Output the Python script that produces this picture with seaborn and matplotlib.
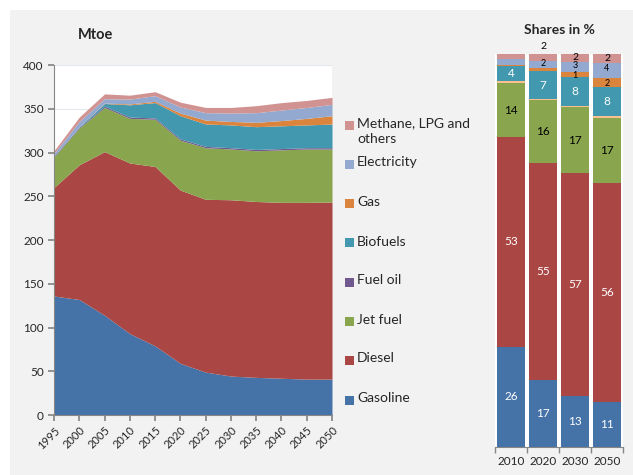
import matplotlib.pyplot as plt
import seaborn as sns
import pandas as pd
from matplotlib.patches import Rectangle

# ---- data: transport energy demand, Mtoe (stacked area) ----
years = [1995, 2000, 2005, 2010, 2015, 2020, 2025, 2030, 2035, 2040, 2045, 2050]
gasoline = [136, 132, 114, 93, 79, 59, 49, 44.5, 43, 42, 41, 41]
diesel = [124, 154, 187, 195, 205, 198, 197.5, 201.5, 201, 201, 202, 202.5]
jet_fuel = [35, 42, 50.5, 51, 54, 57, 59, 58, 58, 60, 61, 60.5]
fuel_oil = [1, 1, 1.5, 1.5, 1.5, 1.5, 1.5, 1.5, 1.5, 1.5, 1.5, 1.5]
biofuels = [0, 0.5, 3, 14, 17.5, 26.5, 25.6, 26, 26, 26, 26, 27]
gas = [0, 0, 0.5, 1, 1.5, 3, 4.4, 4, 5, 6, 7.5, 9.5]
electricity = [3, 6, 5, 5.5, 6.5, 7, 8.5, 9.6, 11, 12, 12.5, 13]
methane = [3, 5, 5.5, 4.5, 4.5, 5.5, 6, 6.4, 8, 8.5, 8, 8]

names = ["Gasoline", "Diesel", "Jet fuel", "Fuel oil", "Biofuels", "Gas",
         "Electricity", "Methane, LPG and\nothers"]
colors = ["#4572a7", "#aa4643", "#89a54e", "#71588f", "#4198af", "#db843d",
          "#93a9cf", "#d19392"]

# ---- data: shares in % (stacked bars) ----
share_years = ["2010", "2020", "2030", "2050"]
share_gasoline = [25.5, 16.9, 12.8, 11.4]
share_diesel = [53.4, 55.3, 56.8, 55.7]
share_jet_fuel = [13.6, 16.0, 16.8, 16.65]
share_fuel_oil = [0.6, 0.4, 0.3, 0.35]
share_biofuels = [3.8, 7.0, 7.5, 7.5]
share_gas = [0.4, 0.85, 1.2, 2.4]
share_electricity = [1.3, 1.7, 2.6, 3.6]
share_methane = [1.4, 1.85, 2.0, 2.4]

lbl_gasoline = ["26", "17", "13", "11"]
lbl_diesel = ["53", "55", "57", "56"]
lbl_jet_fuel = ["14", "16", "17", "17"]
lbl_fuel_oil = ["", "", "", ""]
lbl_biofuels = ["4", "7", "8", "8"]
lbl_gas = ["", "", "1", "2"]
lbl_electricity = ["", "2", "3", "4"]
lbl_methane = ["", "2", "2", "2"]

area_series = [gasoline, diesel, jet_fuel, fuel_oil, biofuels, gas, electricity, methane]
share_series = [share_gasoline, share_diesel, share_jet_fuel, share_fuel_oil,
                share_biofuels, share_gas, share_electricity, share_methane]
share_labels = [lbl_gasoline, lbl_diesel, lbl_jet_fuel, lbl_fuel_oil,
                lbl_biofuels, lbl_gas, lbl_electricity, lbl_methane]
bar_colors = colors.copy()
bar_colors[3] = "#fac090"
label_colors = ["white", "white", "black", "black", "white", "black", "black", "black"]
label_sizes = [8.5, 8.5, 8.5, 8.5, 8.5, 6.5, 6.5, 7.5]
label_nudge = [0, 0, 0, 0, 0, -0.4, 0.4, 0]   # keep the tiny 2030 labels apart

sns.set_theme(style="white")
plt.rcParams["font.family"] = ["Lato", "DejaVu Sans"]

W, H = 633, 475
fig = plt.figure(figsize=(W / 100, H / 100), dpi=100)
fig.patch.set_facecolor("white")
fig.patches.append(Rectangle((10 / W, 0), 1, (H - 10) / H, transform=fig.transFigure,
                             facecolor="#f2f2f2", edgecolor="none", zorder=-10))

axis_grey = "#868686"

# ---- left: stacked area ----
ax = fig.add_axes([54 / W, 1 - 415 / H, (332 - 54) / W, (415 - 65) / H])
ax.set_facecolor("white")
ax.stackplot(years, *area_series, colors=colors, linewidth=0)
ax.set_xlim(1995, 2050)
ax.set_ylim(0, 400)
ax.set_xticks(years)
ax.set_xticklabels([str(y) for y in years], rotation=45, ha="right",
                   rotation_mode="anchor", fontsize=8)
ax.set_yticks(range(0, 401, 50))
ax.tick_params(axis="y", labelsize=8.5, length=4, color=axis_grey, direction="out", left=True)
ax.tick_params(axis="x", length=4, color=axis_grey, direction="out", bottom=True, pad=3)
ax.yaxis.grid(True, color="#e3e7ee", lw=0.8)
ax.set_axisbelow(True)
for s in ["top", "right"]:
    ax.spines[s].set_visible(False)
for s in ["left", "bottom"]:
    ax.spines[s].set_color(axis_grey)
    ax.spines[s].set_linewidth(0.8)
fig.text(78 / W, 1 - 35 / H, "Mtoe", fontsize=10.5, fontweight="bold", va="center")

# legend, drawn top-down in reverse order
leg_y = [125, 164, 203, 243, 282, 321, 360, 400]
for i, (name, col) in enumerate(zip(names[::-1], colors[::-1])):
    y = leg_y[i]
    fig.patches.append(Rectangle((345 / W, 1 - (y + 4.5) / H), 9 / W, 9 / H,
                                 transform=fig.transFigure, facecolor=col, edgecolor="none"))
    fig.text(357 / W, 1 - (y - 7.5) / H, name, fontsize=10, va="top", linespacing=1.35)

# ---- right: shares bars ----
ax2 = fig.add_axes([495 / W, 1 - 446.7 / H, (623 - 495) / W, (446.7 - 54) / H])
ax2.set_facecolor("white")
bottom = [0.0] * len(share_years)
for vals, col, labs, lcol, lsize, nudge, name in zip(share_series, bar_colors, share_labels,
                                                     label_colors, label_sizes, label_nudge,
                                                     names):
    df = pd.DataFrame({"year": share_years, "share": vals})
    sns.barplot(data=df, x="year", y="share", color=col, width=0.86, bottom=bottom,
                saturation=1, linewidth=0, ax=ax2)
    for j, (v, lab) in enumerate(zip(vals, labs)):
        if not lab:
            continue
        yc = bottom[j] + v / 2 + nudge
        if name.startswith("Methane") and v < 1.9:
            yc = 101.8
        ax2.text(j, yc, lab, ha="center", va="center", fontsize=lsize, color=lcol,
                 clip_on=False)
    bottom = [b + v for b, v in zip(bottom, vals)]

ax2.set_xlim(-0.5, 3.5)
ax2.set_ylim(0, 100)
ax2.set_xlabel("")
ax2.set_ylabel("")
ax2.set_yticks([])
ax2.set_xticks([-0.5, 0.5, 1.5, 2.5, 3.5], minor=True)
ax2.tick_params(axis="x", which="major", length=0, labelsize=8.5, pad=7)
ax2.tick_params(axis="x", which="minor", length=4, color=axis_grey, bottom=True)
for s in ["top", "right", "left"]:
    ax2.spines[s].set_visible(False)
ax2.spines["bottom"].set_color(axis_grey)
ax2.spines["bottom"].set_linewidth(0.8)
fig.text(559 / W, 1 - 30 / H, "Shares in %", fontsize=10, fontweight="bold",
         ha="center", va="center")

fig.savefig("out.png", dpi=100)
